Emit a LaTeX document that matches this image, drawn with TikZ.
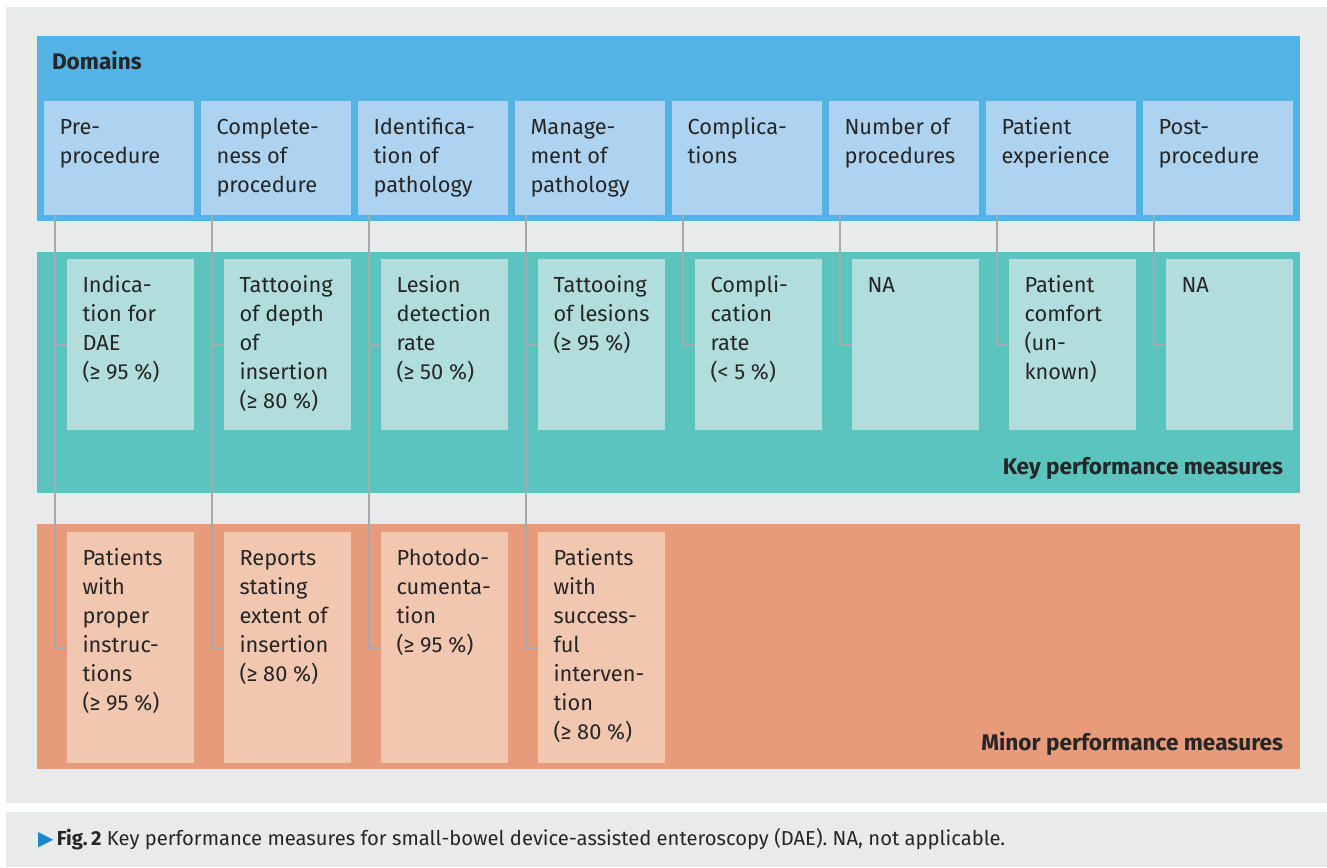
\documentclass[tikz,border=0pt]{standalone}
\usepackage{fontspec}
\setmainfont{Fira Sans}
\newfontfamily\symfont{DejaVu Sans}
\usetikzlibrary{positioning}
\definecolor{panelgray}{HTML}{E9EBEA}
\definecolor{domband}{HTML}{54B3E5}
\definecolor{domfill}{HTML}{ADD3F0}
\definecolor{keyband}{HTML}{5CC4BF}
\definecolor{keyfill}{HTML}{B1DEDC}
\definecolor{minband}{HTML}{E89B7A}
\definecolor{minfill}{HTML}{F2C7B0}
\definecolor{linegray}{HTML}{A8A9AD}
\definecolor{ink}{HTML}{262626}
\definecolor{pointer}{HTML}{1A88C9}

\begin{document}
\begin{tikzpicture}[x=0.5pt,y=-0.5pt,
    every node/.style={text=ink,outer sep=0pt,font=\fontsize{10.9pt}{14.5pt}\selectfont},
    cell/.style n args={3}{fill=#1,inner xsep=0pt,inner ysep=6.35pt,
      execute at begin node={\begin{minipage}[t][\dimexpr#3-12.7pt\relax][t]{#2}\raggedright\leftskip=7.75pt\strut},
      execute at end node={\end{minipage}}},
    dom/.style={cell={domfill}{75pt}{57pt}},
    key/.style={cell={keyfill}{63.5pt}{85.5pt},anchor=north east},
    minor/.style={cell={minfill}{63.5pt}{115.5pt},anchor=north east},
    head/.style={inner sep=0pt,font=\fontsize{11.3pt}{14.5pt}\selectfont\bfseries},
    link/.style={draw=linegray,line width=1pt}]
  \useasboundingbox (0,0) rectangle (1327,867);
  % panels and bands
  \fill[panelgray] (6,7) rectangle (1327,803);
  \fill[panelgray] (6,812) rectangle (1327,867);
  \fill[domband] (37,36) rectangle (1300,221);
  \fill[keyband] (37,252) rectangle (1300,493);
  \fill[minband] (37,524) rectangle (1300,769);

  \node[head,anchor=base west] (domlab) at (52,69) {Domains};
  \node[head,anchor=base east] (keylab) at (1283,474) {Key performance measures};
  \node[head,anchor=base east] (minlab) at (1283,750) {Minor performance measures};

  % domains
  \node[dom,anchor=north west] (d1) at (44,101) {Pre-\\procedure};
  \node[dom] (d2) [right=3.5pt of d1] {Complete-\\ness of\\procedure};
  \node[dom] (d3) [right=3.5pt of d2] {Identifica-\\tion of\\pathology};
  \node[dom] (d4) [right=3.5pt of d3] {Manage-\\ment of\\pathology};
  \node[dom] (d5) [right=3.5pt of d4] {Complica-\\tions};
  \node[dom] (d6) [right=3.5pt of d5] {Number of\\procedures};
  \node[dom] (d7) [right=3.5pt of d6] {Patient\\experience};
  \node[dom] (d8) [right=3.5pt of d7] {Post-\\procedure};

  % key measures
  \node[key] (k1) at ([yshift=-22pt]d1.south east) {Indica-\\tion for\\DAE\\(≥ 95 \%)};
  \node[key] (k2) at ([yshift=-22pt]d2.south east) {Tattooing\\of depth\\of\\insertion\\(≥ 80 \%)};
  \node[key] (k3) at ([yshift=-22pt]d3.south east) {Lesion\\detection\\rate\\(≥ 50 \%)};
  \node[key] (k4) at ([yshift=-22pt]d4.south east) {Tattooing\\of lesions\\(≥ 95 \%)};
  \node[key] (k5) at ([yshift=-22pt]d5.south east) {Compli-\\cation\\rate\\(< 5 \%)};
  \node[key] (k6) at ([yshift=-22pt]d6.south east) {NA};
  \node[key] (k7) at ([yshift=-22pt]d7.south east) {Patient\\comfort\\(un-\\known)};
  \node[key] (k8) at ([yshift=-22pt]d8.south east) {NA};

  % minor measures
  \node[minor] (m1) at ([yshift=-51pt]k1.south east) {Patients\\with\\proper\\instruc-\\tions\\(≥ 95 \%)};
  \node[minor] (m2) at ([yshift=-51pt]k2.south east) {Reports\\stating\\extent of\\insertion\\(≥ 80 \%)};
  \node[minor] (m3) at ([yshift=-51pt]k3.south east) {Photodo-\\cumenta-\\tion\\(≥ 95 \%)};
  \node[minor] (m4) at ([yshift=-51pt]k4.south east) {Patients\\with\\success-\\ful\\interven-\\tion\\(≥ 80 \%)};

  % connectors
  \draw[link] ([xshift=5.25pt]d1.south west) |- (m1.west);
  \draw[link] ([xshift=5.25pt]d1.south west) |- (k1.west);
  \draw[link] ([xshift=5.25pt]d2.south west) |- (m2.west);
  \draw[link] ([xshift=5.25pt]d2.south west) |- (k2.west);
  \draw[link] ([xshift=5.25pt]d3.south west) |- (m3.west);
  \draw[link] ([xshift=5.25pt]d3.south west) |- (k3.west);
  \draw[link] ([xshift=5.25pt]d4.south west) |- (m4.west);
  \draw[link] ([xshift=5.25pt]d4.south west) |- (k4.west);
  \draw[link] ([xshift=5.25pt]d5.south west) |- (k5.west);
  \draw[link] ([xshift=5.25pt]d6.south west) |- (k6.west);
  \draw[link] ([xshift=5.25pt]d7.south west) |- (k7.west);
  \draw[link] ([xshift=5.25pt]d8.south west) |- (k8.west);

  % caption
  \node[anchor=base west,inner sep=0pt,font=\fontsize{10.1pt}{12pt}\selectfont] (cap) at (38,845)
    {{\symfont\color{pointer}▶}\,\textbf{Fig.\,2} Key performance measures for small-bowel device-assisted enteroscopy (DAE). NA, not applicable.};
\end{tikzpicture}
\end{document}
